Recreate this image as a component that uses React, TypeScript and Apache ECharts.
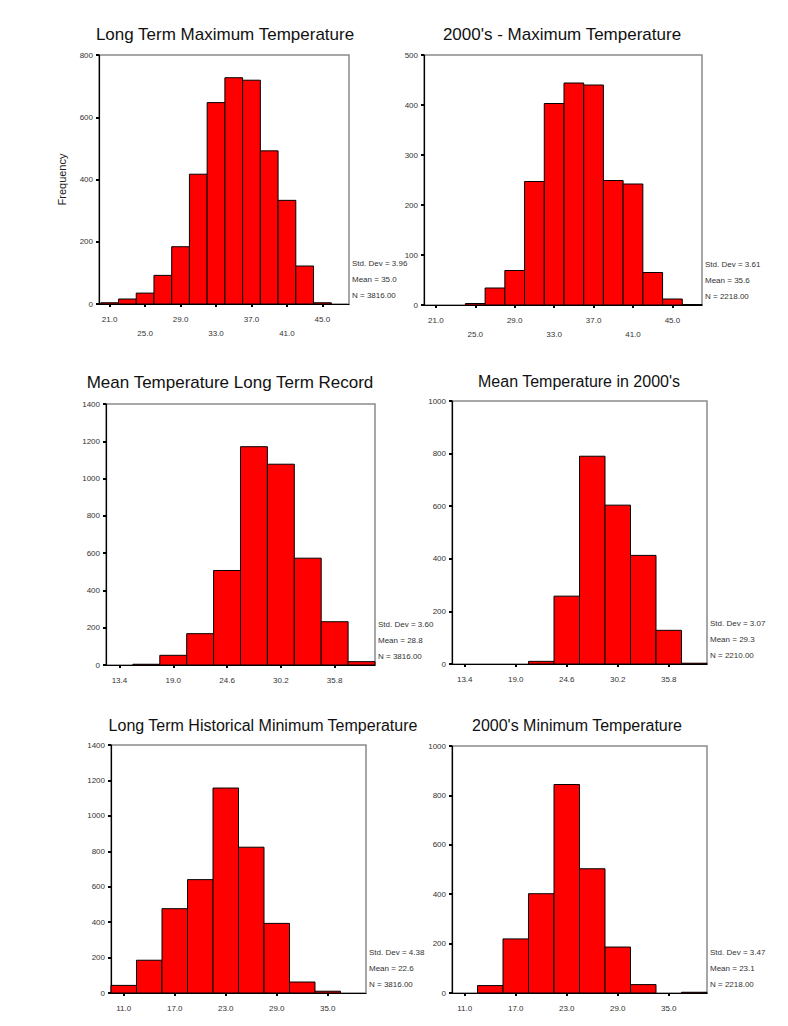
import React, { useEffect, useRef } from "react";
import * as echarts from "echarts";

// ---- Data ----
const TITLES = [
  "Long Term Maximum Temperature",
  "2000's - Maximum Temperature",
  "Mean Temperature Long Term Record",
  "Mean Temperature in 2000's",
  "Long Term Historical Minimum Temperature",
  "2000's Minimum Temperature",
];

const LT_MAX_CENTERS = [21, 23, 25, 27, 29, 31, 33, 35, 37, 39, 41, 43, 45];
const LT_MAX_COUNTS = [4, 16, 35, 92, 184, 417, 647, 727, 719, 492, 333, 122, 4];

const MAX_2000_CENTERS = [25, 27, 29, 31, 33, 35, 37, 39, 41, 43, 45, 47];
const MAX_2000_COUNTS = [3, 34, 69, 247, 403, 444, 440, 249, 242, 65, 12, 1];

const LT_MEAN_CENTERS = [16.2, 19.0, 21.8, 24.6, 27.4, 30.2, 33.0, 35.8, 38.6];
const LT_MEAN_COUNTS = [4, 52, 168, 507, 1171, 1077, 573, 232, 18];

const MEAN_2000_CENTERS = [21.8, 24.6, 27.4, 30.2, 33.0, 35.8, 38.6];
const MEAN_2000_COUNTS = [10, 258, 790, 604, 413, 128, 3];

const LT_MIN_CENTERS = [11, 14, 17, 20, 23, 26, 29, 32, 35];
const LT_MIN_COUNTS = [43, 185, 476, 640, 1157, 823, 393, 62, 10];

const MIN_2000_CENTERS = [14, 17, 20, 23, 26, 29, 32, 35, 38];
const MIN_2000_COUNTS = [30, 219, 402, 844, 503, 186, 34, 0, 3];

const BIN_WIDTHS = [2, 2, 2.8, 2.8, 3, 3];

const MAX_TICKS = [21, 25, 29, 33, 37, 41, 45];
const MEAN_TICKS = [13.4, 19.0, 24.6, 30.2, 35.8];
const MIN_TICKS = [11, 17, 23, 29, 35];

const STATS = [
  ["Std. Dev = 3.96", "Mean = 35.0", "N = 3816.00"],
  ["Std. Dev = 3.61", "Mean = 35.6", "N = 2218.00"],
  ["Std. Dev = 3.60", "Mean = 28.8", "N = 3816.00"],
  ["Std. Dev = 3.07", "Mean = 29.3", "N = 2210.00"],
  ["Std. Dev = 4.38", "Mean = 22.6", "N = 3816.00"],
  ["Std. Dev = 3.47", "Mean = 23.1", "N = 2218.00"],
];

// ---- Layout ----
const GRIDS = [
  { left: 99, top: 55, width: 250, height: 249 },
  { left: 424, top: 55, width: 278, height: 250 },
  { left: 106, top: 404, width: 269, height: 261 },
  { left: 452, top: 401, width: 255, height: 263 },
  { left: 111, top: 745, width: 255, height: 248 },
  { left: 452, top: 746, width: 255, height: 247 },
];
const TITLE_POS = [
  [220, 21], [557, 21], [225, 369], [574, 368], [258, 712], [572, 712],
];
const TITLE_SIZES = [17, 17, 17, 16, 16, 16];
const X_RANGES = [
  [19.8, 48], [19.8, 48], [12, 40], [12, 40], [9.5, 39.5], [9.5, 39.5],
];
const Y_RANGES = [
  [800, 200], [500, 100], [1400, 200], [1000, 200], [1400, 200], [1000, 200],
];
const TICK_SETS = [MAX_TICKS, MAX_TICKS, MEAN_TICKS, MEAN_TICKS, MIN_TICKS, MIN_TICKS];
const CENTER_SETS = [LT_MAX_CENTERS, MAX_2000_CENTERS, LT_MEAN_CENTERS, MEAN_2000_CENTERS, LT_MIN_CENTERS, MIN_2000_CENTERS];
const COUNT_SETS = [LT_MAX_COUNTS, MAX_2000_COUNTS, LT_MEAN_COUNTS, MEAN_2000_COUNTS, LT_MIN_COUNTS, MIN_2000_COUNTS];

const FONT = "Arial, 'Liberation Sans', sans-serif";

export default function App() {
  const ref = useRef<HTMLDivElement>(null);
  useEffect(() => {
    if (!ref.current) return;
    const chart = echarts.init(ref.current, null, { renderer: "svg" });

    const grid = GRIDS.map((g) => ({
      ...g,
      show: true,
      borderColor: "#8a8a8a",
      borderWidth: 1.5,
      backgroundColor: "#fff",
    }));

    const xAxis = GRIDS.map((_, i) => ({
      type: "value",
      gridIndex: i,
      min: X_RANGES[i][0],
      max: X_RANGES[i][1],
      splitLine: { show: false },
      axisLine: { show: true, onZero: false, lineStyle: { color: "#000", width: 1.2 } },
      axisTick: {
        show: true,
        customValues: TICK_SETS[i],
        length: 3,
        lineStyle: { color: "#000", width: 2 },
      },
      axisLabel: {
        show: true,
        customValues: TICK_SETS[i],
        fontSize: 8,
        fontFamily: FONT,
        color: "#333",
        margin: 8,
        lineHeight: 14,
        formatter: (v: number) => {
          const s = v.toFixed(1);
          if (i < 2) {
            const idx = TICK_SETS[i].findIndex((t) => Math.abs(t - v) < 1e-6);
            return idx % 2 === 1 ? "\n" + s : s;
          }
          return s;
        },
      },
    }));

    const yAxis = GRIDS.map((_, i) => ({
      type: "value",
      gridIndex: i,
      min: 0,
      max: Y_RANGES[i][0],
      interval: Y_RANGES[i][1],
      splitLine: { show: false },
      axisLine: { show: true, lineStyle: { color: "#000", width: 1.2 } },
      axisTick: { show: true, length: 3, lineStyle: { color: "#000", width: 2 } },
      axisLabel: {
        fontSize: 8,
        fontFamily: FONT,
        color: "#333",
        margin: 6,
        formatter: (v: number) => String(v),
      },
      name: i === 0 ? "Frequency" : "",
      nameLocation: "middle",
      nameGap: 32,
      nameTextStyle: { fontSize: 11, fontFamily: FONT, color: "#222" },
    }));

    const series = GRIDS.map((_, i) => ({
      type: "custom",
      xAxisIndex: i,
      yAxisIndex: i,
      data: CENTER_SETS[i].map((c, k) => [
        c - BIN_WIDTHS[i] / 2,
        c + BIN_WIDTHS[i] / 2,
        COUNT_SETS[i][k],
      ]),
      encode: { x: [0, 1], y: 2 },
      renderItem: (params: any, api: any) => {
        const x0 = api.value(0);
        const x1 = api.value(1);
        const v = api.value(2);
        if (!v) return null;
        const p0 = api.coord([x0, v]);
        const p1 = api.coord([x1, 0]);
        return {
          type: "rect",
          shape: { x: p0[0], y: p0[1], width: p1[0] - p0[0], height: p1[1] - p0[1] },
          style: { fill: "#ff0000", stroke: "#000", lineWidth: 1 },
        };
      },
    }));

    const title = TITLES.map((t, i) => ({
      text: t,
      left: TITLE_POS[i][0],
      top: TITLE_POS[i][1],
      textAlign: "center",
      textStyle: { fontSize: TITLE_SIZES[i], fontWeight: "normal", fontFamily: FONT, color: "#111" },
    }));

    const graphic: any[] = [];
    GRIDS.forEach((g, i) => {
      const bottom = g.top + g.height;
      STATS[i].forEach((s, k) => {
        graphic.push({
          type: "text",
          left: g.left + g.width + 3,
          top: bottom - 45 + k * 16,
          style: { text: s, fontSize: 8, fontFamily: FONT, fill: "#333" },
        });
      });
    });

    chart.setOption({
      animation: false,
      backgroundColor: "#fff",
      title,
      grid,
      xAxis,
      yAxis,
      series,
      graphic,
    });
    return () => chart.dispose();
  }, []);
  return (
    <div
      ref={ref}
      style={{ position: "absolute", left: 0, top: 0, width: 788, height: 1026 }}
    />
  );
}
